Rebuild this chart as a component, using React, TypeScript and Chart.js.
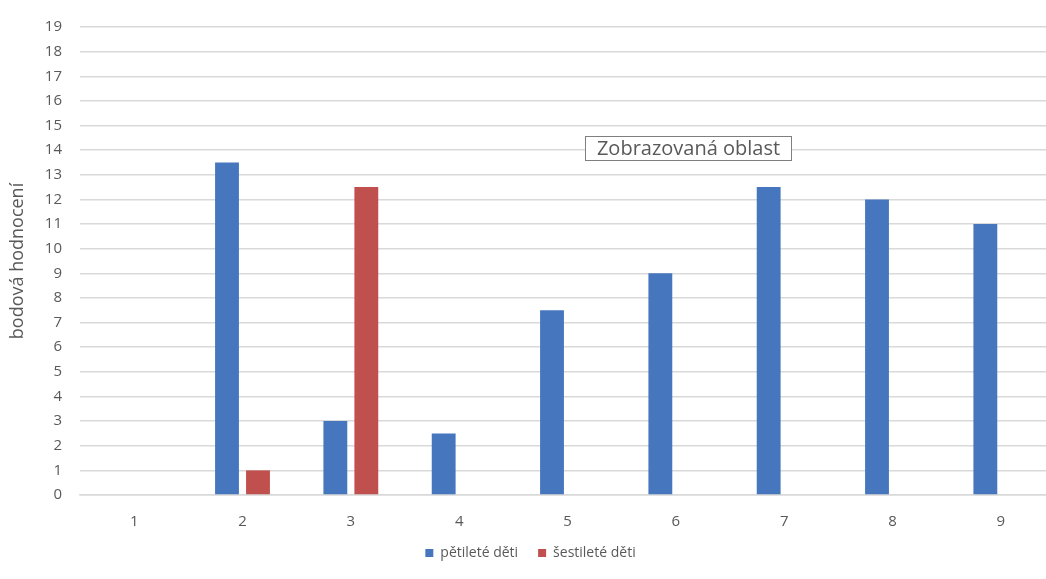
import React, { useEffect, useRef } from "react";
import { Chart, registerables } from "chart.js";

Chart.register(...registerables);

const categories = ["1", "2", "3", "4", "5", "6", "7", "8", "9"];
const fiveYearOlds = [0, 13.5, 3, 2.5, 7.5, 9, 12.5, 12, 11];
const sixYearOlds = [0, 1, 12.5, 0, 0, 0, 0, 0, 0];
const seriesNames = ["pětileté děti", "šestileté děti"];
const axisTitle = "bodová hodnocení";
const boxLabel = "Zobrazovaná oblast";

const FONT = "'Open Sans', 'Noto Sans', sans-serif";
const TEXT = "#595959";
const GRID = "#d9d9d9";

// The plot runs slightly past the visible frame on the right
const CANVAS_W = 1062;
const CANVAS_H = 579;

// Framed caption drawn over the plot area
const captionPlugin = {
  id: "caption",
  afterDraw(chart: any) {
    const { ctx, chartArea } = chart;
    const x = chartArea.left + 505;
    const y = chartArea.top + 109;
    const w = 206;
    const h = 24;
    ctx.save();
    ctx.fillStyle = "#ffffff";
    ctx.fillRect(x, y, w, h);
    ctx.strokeStyle = "#7f7f7f";
    ctx.lineWidth = 1;
    ctx.strokeRect(x + 0.5, y + 0.5, w, h);
    ctx.fillStyle = TEXT;
    ctx.font = `20px ${FONT}`;
    ctx.textAlign = "center";
    ctx.textBaseline = "middle";
    ctx.fillText(boxLabel, x + w / 2 + 0.5, y + h / 2 + 1);
    ctx.restore();
  },
};

// Centre the legend under the visible part of the page
const legendShift = {
  id: "legendShift",
  afterLayout(chart: any) {
    const lg = chart.legend;
    if (!lg) return;
    lg.left += 3;
    lg.right += 3;
  },
};

export default function App() {
  const ref = useRef<HTMLCanvasElement | null>(null);

  useEffect(() => {
    document.body.style.margin = "0";
    if (!ref.current) return;
    const chart = new Chart(ref.current, {
      type: "bar",
      data: {
        labels: categories,
        datasets: [
          {
            label: seriesNames[0],
            data: fiveYearOlds,
            backgroundColor: "#4677BE",
            categoryPercentage: 0.572,
            barPercentage: 0.77,
          },
          {
            label: seriesNames[1],
            data: sixYearOlds,
            backgroundColor: "#C0504D",
            categoryPercentage: 0.572,
            barPercentage: 0.77,
          },
        ],
      },
      options: {
        animation: false,
        responsive: false,
        layout: { padding: { top: 24, right: 7, bottom: 9, left: 0 } },
        plugins: {
          tooltip: { enabled: false },
          legend: {
            position: "bottom",
            labels: {
              boxWidth: 8,
              boxHeight: 8,
              padding: 20,
              color: TEXT,
              font: { family: FONT, size: 14 },
            },
          },
        },
        scales: {
          x: {
            grid: { display: false, drawTicks: false },
            border: { display: true, color: GRID, width: 1.5 },
            ticks: {
              color: TEXT,
              padding: 18,
              font: { family: FONT, size: 15 },
            },
            afterFit(scale: any) {
              scale.height = 31;
            },
          },
          y: {
            min: 0,
            max: 19,
            grid: { color: GRID, lineWidth: 1.5, drawTicks: false },
            border: { display: false },
            ticks: {
              stepSize: 1,
              color: TEXT,
              padding: 18,
              font: { family: FONT, size: 15 },
            },
            title: {
              display: true,
              text: axisTitle,
              color: TEXT,
              font: { family: FONT, size: 18 },
              padding: { top: 7, bottom: 0 },
            },
            afterFit(scale: any) {
              scale.width = 80;
            },
          },
        },
      },
      plugins: [captionPlugin, legendShift],
    });
    return () => chart.destroy();
  }, []);

  return (
    <div style={{ width: 1046, height: CANVAS_H, overflow: "hidden" }}>
      <canvas ref={ref} width={CANVAS_W} height={CANVAS_H} style={{ display: "block" }} />
    </div>
  );
}
